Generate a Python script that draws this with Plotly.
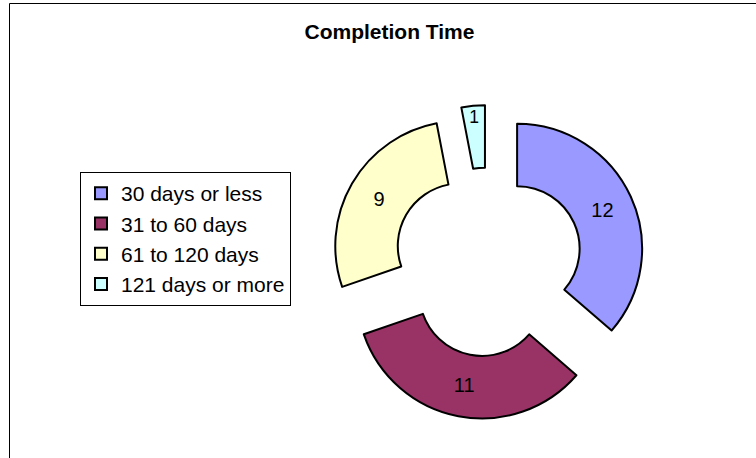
import plotly.graph_objects as go

categories = ["30 days or less", "31 to 60 days", "61 to 120 days", "121 days or more"]
values = [12, 11, 9, 1]
colors = ["#9999FF", "#993366", "#FFFFCC", "#CCFFFF"]

W, H = 756, 458
FONT = "Liberation Sans, Arial, sans-serif"

# pie geometry (pixels)
cx, cy = 488, 262
R = 125
pull = 0.256
half = R * (1 + pull)

fig = go.Figure(go.Pie(
    labels=categories,
    values=values,
    sort=False,
    direction="clockwise",
    rotation=0,
    hole=0.5,
    pull=[pull] * len(values),
    marker=dict(colors=colors, line=dict(color="#000000", width=2)),
    textinfo="value",
    textposition="inside",
    insidetextorientation="horizontal",
    textfont=dict(family=FONT, size=20, color="#000000"),
    domain=dict(x=[(cx - half) / W, (cx + half) / W],
                y=[(H - cy - half) / H, (H - cy + half) / H]),
    hoverinfo="label+value+percent",
))

fig.update_layout(
    width=W, height=H,
    margin=dict(l=0, r=0, t=0, b=0),
    paper_bgcolor="#FFFFFF",
    plot_bgcolor="#FFFFFF",
    title=dict(text="<b>Completion Time</b>", x=389.5 / W, xanchor="center",
               y=1 - 31.7 / H, yanchor="middle",
               font=dict(family=FONT, size=21, color="#000000")),
    legend=dict(x=80 / W, xanchor="left", y=1 - 172 / H, yanchor="top",
                bordercolor="#000000", borderwidth=1, bgcolor="#FFFFFF",
                font=dict(family=FONT, size=21, color="#000000"),
                traceorder="normal"),
    showlegend=True,
    shapes=[dict(type="rect", xref="paper", yref="paper",
                 x0=9.5 / W, x1=1.05, y0=-0.05, y1=1 - 3.5 / H,
                 line=dict(color="#000000", width=1), fillcolor="rgba(0,0,0,0)",
                 layer="below")],
)

fig.write_html(
    "out.html",
    config={"displayModeBar": False},
    post_script="document.body.style.margin='0';document.body.style.overflow='hidden';",
)
